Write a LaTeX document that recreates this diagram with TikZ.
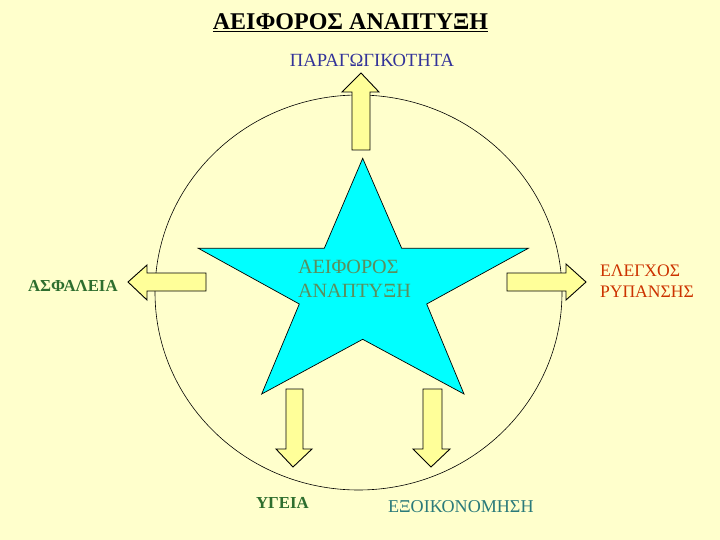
\documentclass[tikz,border=0pt]{standalone}
\usepackage{fontspec}
\setmainfont{Liberation Serif}
\definecolor{bg}{HTML}{FFFFCC}
\definecolor{arrowfill}{HTML}{FFFF99}
\definecolor{starfill}{HTML}{00FFFF}
\definecolor{tblue}{HTML}{333399}
\definecolor{tgreen}{HTML}{2E6E2E}
\definecolor{tred}{HTML}{CC3300}
\definecolor{tteal}{HTML}{2A7A7A}
\definecolor{tstar}{HTML}{5A8F5E}
\begin{document}
\begin{tikzpicture}[x=1pt,y=-1pt,
  blockarrow/.style={draw=black, fill=arrowfill, line width=0.9pt, line join=miter},
  lbl/.style={anchor=base west, inner sep=0pt, outer sep=0pt}]
\fill[bg] (0,0) rectangle (720,540);
\useasboundingbox (0,0) rectangle (720,540);

% circle
\draw[line width=0.6pt] (358.5,292.5) ellipse [x radius=203.5, y radius=197.5];

% star
\draw[fill=starfill, line width=0.7pt, line join=miter]
  (362.7,158.3) -- (401.7,248.3) -- (528.3,248.3) -- (426.7,304) -- (464,394)
  -- (362.7,339.3) -- (261.7,394) -- (299.3,304) -- (198.3,248.3) -- (324.3,248.3) -- cycle;

% block arrows
\draw[blockarrow] (352,150) -- (352,92) -- (342,92) -- (361,73) -- (379,92) -- (370,92) -- (370,150) -- cycle;
\draw[blockarrow] (206,273) -- (147,273) -- (147,265) -- (128,282) -- (147,300) -- (147,291) -- (206,291) -- cycle;
\draw[blockarrow] (507,273) -- (566,273) -- (566,264) -- (586,282) -- (566,300) -- (566,291) -- (507,291) -- cycle;
\draw[blockarrow] (286,389) -- (286,449) -- (276,449) -- (293,467) -- (312,449) -- (303,449) -- (303,389) -- cycle;
\draw[blockarrow] (423,389) -- (423,449) -- (413,449) -- (431,467) -- (450,449) -- (442,449) -- (442,389) -- cycle;

% texts
\node[anchor=base, inner sep=0pt, font=\fontsize{24}{28}\selectfont\bfseries] (title) at (350.5,30) {\underline{ΑΕΙΦΟΡΟΣ ΑΝΑΠΤΥΞΗ}};
\node[anchor=base, inner sep=0pt, text=tblue, font=\fontsize{18.6}{22}\selectfont] (parag) at (372,67) {ΠΑΡΑΓΩΓΙΚΟΤΗΤΑ};
\node[lbl, text=tgreen, font=\fontsize{16.8}{20}\selectfont\bfseries] (asfal) at (28,291) {ΑΣΦΑΛΕΙΑ};
\node[lbl, text=tred, font=\fontsize{17.6}{20.7}\selectfont, align=left] (elegx) at (600,297) {ΕΛΕΓΧΟΣ\\ΡΥΠΑΝΣΗΣ};
\node[lbl, text=tstar, font=\fontsize{20.2}{23.8}\selectfont, align=left] (center) at (298,297) {ΑΕΙΦΟΡΟΣ\\ΑΝΑΠΤΥΞΗ};
\node[lbl, text=tgreen, font=\fontsize{16.8}{20}\selectfont\bfseries] (ygeia) at (256,508) {ΥΓΕΙΑ};
\node[lbl, text=tteal, font=\fontsize{18.1}{20}\selectfont] (exoik) at (388,512) {ΕΞΟΙΚΟΝΟΜΗΣΗ};
\end{tikzpicture}
\end{document}
